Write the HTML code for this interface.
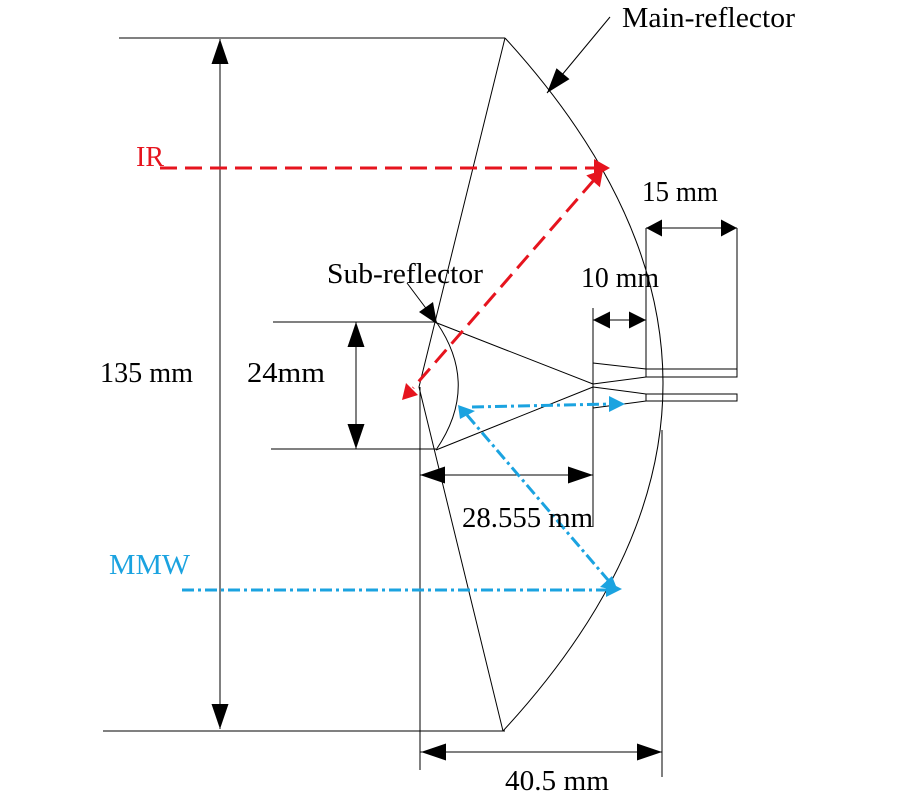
<!DOCTYPE html>
<html><head><meta charset="utf-8"><style>
html,body{margin:0;padding:0;background:#fff;}
svg{display:block;}
text{font-family:"Liberation Serif",serif;font-size:28px;}
</style></head><body>
<svg width="900" height="800" viewBox="0 0 900 800" xmlns="http://www.w3.org/2000/svg">
<g fill="none" stroke="#000" stroke-width="1">
  <line x1="119" y1="38" x2="505" y2="38"/>
  <line x1="103" y1="731" x2="505" y2="731"/>
  <polyline points="505,38 419,387 503,731"/>
  <path d="M505,38 Q822,385 503,731"/>
  <path d="M437,323 Q480,386 436,450"/>
  <line x1="437" y1="323" x2="593" y2="384"/>
  <line x1="436" y1="450" x2="593" y2="387"/>
  <line x1="593" y1="308" x2="593" y2="527"/>
  <line x1="593" y1="363" x2="646" y2="369"/>
  <line x1="593" y1="384" x2="646" y2="377"/>
  <line x1="593" y1="387" x2="646" y2="394"/>
  <line x1="593" y1="408" x2="646" y2="401"/>
  <rect x="646" y="369" width="91" height="8"/>
  <rect x="646" y="394" width="91" height="7"/>
  <line x1="646" y1="228" x2="646" y2="369"/>
  <line x1="737" y1="228" x2="737" y2="369"/>
  <line x1="420" y1="387" x2="420" y2="770"/>
  <line x1="662" y1="430" x2="662" y2="777"/>
  <line x1="273" y1="322" x2="437" y2="322"/>
  <line x1="271" y1="449" x2="436" y2="449"/>
  <line x1="220" y1="39" x2="220" y2="729"/>
  <line x1="356" y1="322" x2="356" y2="449"/>
  <line x1="420" y1="475" x2="593" y2="475"/>
  <line x1="420" y1="752" x2="662" y2="752"/>
  <line x1="646" y1="228" x2="737" y2="228"/>
  <line x1="593" y1="320" x2="646" y2="320"/>
  <line x1="610" y1="17" x2="547" y2="93"/>
  <line x1="407" y1="283" x2="437" y2="323"/>
</g>
<g fill="#000">
  <polygon points="220,39 211.5,64 228.5,64"/>
  <polygon points="220,729 211.5,704 228.5,704"/>
  <polygon points="356,322 347.5,347 364.5,347"/>
  <polygon points="356,449 347.5,424 364.5,424"/>
  <polygon points="420,475 445,466.5 445,483.5"/>
  <polygon points="593,475 568,466.5 568,483.5"/>
  <polygon points="421,752 446,743.5 446,760.5"/>
  <polygon points="662,752 637,743.5 637,760.5"/>
  <polygon points="646,228 662,219.5 662,236.5"/>
  <polygon points="737,228 721,219.5 721,236.5"/>
  <polygon points="593,320 610,311.5 610,328.5"/>
  <polygon points="646,320 629,311.5 629,328.5"/>
  <polygon points="547,93 556.5,68.3 569.5,79.1"/>
  <polygon points="437,324 419,312 433,302"/>
</g>
<g stroke="#e6141e" stroke-width="3" fill="none" stroke-dasharray="17 8">
  <line x1="160" y1="168" x2="597" y2="168"/>
  <line x1="594" y1="180" x2="413" y2="388"/>
</g>
<g fill="#e6141e">
  <polygon points="610,168 594,159 594,177"/>
  <polygon points="603,170 586.3,175.4 599.9,187.2"/>
  <polygon points="402,400 406,383 418,395"/>
</g>
<g stroke="#1ba3e0" stroke-width="3" fill="none" stroke-dasharray="12 4 3 4">
  <line x1="182" y1="590" x2="610" y2="590"/>
  <line x1="467" y1="415" x2="608" y2="580"/>
  <line x1="472" y1="407" x2="612" y2="404"/>
</g>
<g fill="#1ba3e0">
  <polygon points="622,589 606,581 606,597"/>
  <polygon points="618,591 600,587 612,576"/>
  <polygon points="458,405 460,419 475,411"/>
  <polygon points="625,404 609,396 609,412"/>
</g>
<g fill="#000">
  <text x="622" y="27" textLength="173" lengthAdjust="spacingAndGlyphs">Main-reflector</text>
  <text x="642" y="201" textLength="76" lengthAdjust="spacingAndGlyphs">15 mm</text>
  <text x="327" y="283" textLength="156" lengthAdjust="spacingAndGlyphs">Sub-reflector</text>
  <text x="581" y="287" textLength="78" lengthAdjust="spacingAndGlyphs">10 mm</text>
  <text x="100" y="382" textLength="93" lengthAdjust="spacingAndGlyphs">135 mm</text>
  <text x="247" y="382" textLength="78" lengthAdjust="spacingAndGlyphs">24mm</text>
  <text x="462" y="527" textLength="131" lengthAdjust="spacingAndGlyphs">28.555 mm</text>
  <text x="505" y="790" textLength="104" lengthAdjust="spacingAndGlyphs">40.5 mm</text>
</g>
<text x="136" y="166" fill="#e6141e" textLength="28" lengthAdjust="spacingAndGlyphs">IR</text>
<text x="109" y="574" fill="#1ba3e0" textLength="81" lengthAdjust="spacingAndGlyphs">MMW</text>
</svg>
</body></html>
